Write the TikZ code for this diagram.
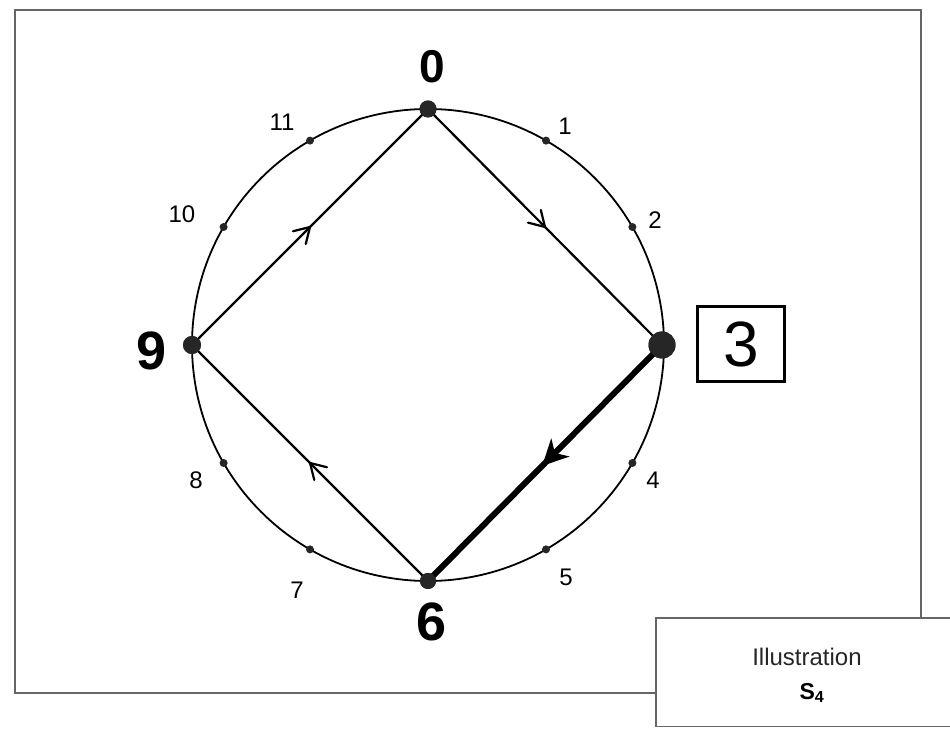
\documentclass[tikz,border=0pt]{standalone}
\usepackage{fontspec}
\setmainfont{Liberation Sans}
\usetikzlibrary{decorations.markings,calc}
\begin{document}
\begin{tikzpicture}[x=1pt,y=1pt,
  pt/.style={circle,fill=black!85,inner sep=0pt,minimum size=#1},
  num/.style={font=\fontsize{24}{24}\selectfont},
  edge/.style={line width=2.2pt,postaction={decorate},
    decoration={markings,mark=at position 0.5 with {\draw[line width=2.2pt,line cap=round,line join=miter] (-15,9) -- (0,0) -- (-15,-9);}}},
  thickedge/.style={line width=6pt,postaction={decorate},
    decoration={markings,mark=at position 0.5 with {\fill (4,0) -- (-22,13) -- (-14,0) -- (-22,-13) -- cycle;}}},
  frame/.style={draw=black!60,line width=1.8pt},
]
\useasboundingbox (0,0) rectangle (950,728);
\fill[white] (0,0) rectangle (950,728);
% outer frame
\draw[frame] (15,718) rectangle (921,35);
% circle
\coordinate (c) at (428,383);
\draw[line width=1.8pt] (c) circle[radius=236];
% main points
\node[pt=17pt] (p0) at ($(c)+(90:236)$) {};
\node[pt=27pt] (p3) at ($(c)+(0:234)$) {};
\node[pt=16pt] (p6) at ($(c)+(270:236)$) {};
\node[pt=18pt] (p9) at ($(c)+(180:236)$) {};
% ticks
\foreach \k/\a in {1/60,2/30,4/-30,5/-60,7/-120,8/-150,10/150,11/120}
  \node[pt=8pt] (t\k) at ($(c)+(\a:236)$) {};
% edges
\draw[edge] (p0.center) -- (p3.center);
\draw[edge] (p9.center) -- (p0.center);
\draw[edge] (p6.center) -- (p9.center);
\draw[thickedge] (p3.center) -- (p6.center);
% redraw dots on top
\node[pt=17pt] at (p0) {};
\node[pt=27pt] at (p3) {};
\node[pt=16pt] at (p6) {};
\node[pt=18pt] at (p9) {};
% big labels
\node[font=\fontsize{46}{46}\selectfont\bfseries] (l0) at (432,661) {0};
\node[draw,line width=2.2pt,minimum width=87pt,minimum height=75pt,inner sep=0pt,
      font=\fontsize{64}{64}\selectfont] (l3) at (741,384) {3};
\node[font=\fontsize{54}{54}\selectfont\bfseries] (l6) at (432,106) {6};
\node[font=\fontsize{54}{54}\selectfont\bfseries] (l9) at (152,377) {9};
% small labels
\node[num] (n1) at (565,602) {1};
\node[num] (n2) at (655,508) {2};
\node[num] (n4) at (653,248) {4};
\node[num] (n5) at (566,151) {5};
\node[num] (n7) at (297,138) {7};
\node[num] (n8) at (196,248) {8};
\node[num] (n10) at (182,514) {10};
\node[num] (n11) at (282,606) {11};
% illustration box
\fill[white] (656,0) rectangle (950,110);
\draw[frame] (950,110) -- (656,110) -- (656,1.5) -- (950,1.5);
\node[font=\fontsize{24}{24}\selectfont,text=black!85] (ill) at (807,71) {Illustration};
\node[font=\fontsize{23}{23}\selectfont\bfseries] (s4) at (812,35) {S$_{\mathbf 4}$};
\end{tikzpicture}
\end{document}
